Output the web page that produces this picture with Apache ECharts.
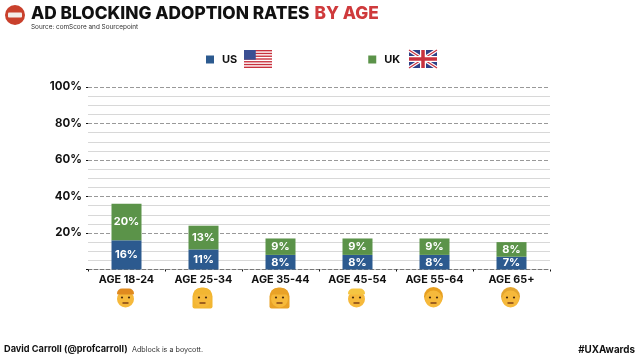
<!DOCTYPE html>
<html>
<head>
<meta charset="utf-8">
<style>
  html, body { margin: 0; padding: 0; background: #fff; }
  #chart { width: 638px; height: 359px; }
</style>
<script src="https://cdn.jsdelivr.net/npm/echarts@6/dist/echarts.min.js"></script>
</head>
<body>
<div id="chart"></div>
<script>
var categories = ["AGE 18-24", "AGE 25-34", "AGE 35-44", "AGE 45-54", "AGE 55-64", "AGE 65+"];
var usValues = [16, 11, 8, 8, 8, 7];
var ukValues = [20, 13, 9, 9, 9, 8];
var faceHair = ["#e08a1e", "#f2b632", "#e9a227", "#f5c542", "#e8a020", "#e3a52f"];
var faceStyle = ["short", "long", "long", "short", "bun", "bald"];

var FONT = "Inter, Lato, sans-serif";
var BLUE = "#2c5a8f";
var GREEN = "#5b9349";

// little emoji look-alike, the font has no colour emoji
function face(cx, cy, hair, style) {
  var kids = [];
  if (style === "long") {
    kids.push({ type: "rect", shape: { x: cx - 10, y: cy - 10, width: 20, height: 21, r: [9, 9, 2, 2] }, style: { fill: hair } });
  }
  if (style === "bun" || style === "bald") {
    kids.push({ type: "circle", shape: { cx: cx, cy: cy - 1, r: 9.5 }, style: { fill: hair } });
  }
  kids.push({ type: "circle", shape: { cx: cx, cy: cy + 1.5, r: 8.5 }, style: { fill: "#f6b93b" } });
  if (style === "short" || style === "long") {
    kids.push({ type: "rect", shape: { x: cx - 8.5, y: cy - 9, width: 17, height: 6, r: [5, 5, 1, 1] }, style: { fill: hair } });
  }
  kids.push({ type: "circle", shape: { cx: cx - 3.5, cy: cy, r: 1.1 }, style: { fill: "#4a2c10" } });
  kids.push({ type: "circle", shape: { cx: cx + 3.5, cy: cy, r: 1.1 }, style: { fill: "#4a2c10" } });
  kids.push({ type: "line", shape: { x1: cx - 3, y1: cy + 5.5, x2: cx + 3, y2: cy + 5.5 }, style: { stroke: "#7a3a14", lineWidth: 1.4 } });
  return { type: "group", children: kids };
}

function usFlag(x, y, w, h) {
  var kids = [{ type: "rect", shape: { x: x, y: y, width: w, height: h }, style: { fill: "#fff" } }];
  for (var i = 0; i < 7; i++) {
    kids.push({ type: "rect", shape: { x: x, y: y + i * h / 6.5, width: w, height: h / 13 }, style: { fill: "#c8313e" } });
  }
  kids.push({ type: "rect", shape: { x: x, y: y, width: w * 0.42, height: h * 0.54 }, style: { fill: "#3b4f93" } });
  return { type: "group", children: kids };
}

function ukFlag(x, y, w, h) {
  function cross(x1, y1, x2, y2, color, lw) {
    return { type: "line", shape: { x1: x1, y1: y1, x2: x2, y2: y2 }, style: { stroke: color, lineWidth: lw } };
  }
  var r = x + w, b = y + h, mx = x + w / 2, my = y + h / 2;
  return { type: "group", children: [
    { type: "rect", shape: { x: x, y: y, width: w, height: h }, style: { fill: "#2f3f86" } },
    cross(x, y, r, b, "#fff", 3.5),
    cross(x, b, r, y, "#fff", 3.5),
    cross(x, y, r, b, "#c8313e", 1.2),
    cross(x, b, r, y, "#c8313e", 1.2),
    cross(mx, y, mx, b, "#fff", 6),
    cross(x, my, r, my, "#fff", 6),
    cross(mx, y, mx, b, "#c8313e", 3.5),
    cross(x, my, r, my, "#c8313e", 3.5)
  ] };
}

var chart = echarts.init(document.getElementById("chart"));

var option = {
  animation: false,
  backgroundColor: "#fff",
  title: {
    left: 31,
    top: 5,
    padding: 0,
    text: "{a|AD BLOCKING ADOPTION RATES} {b|BY AGE}",
    textStyle: {
      rich: {
        a: { fontFamily: FONT, fontSize: 17.3, fontWeight: 800, color: "#111" },
        b: { fontFamily: FONT, fontSize: 17.3, fontWeight: 800, color: "#cf3a3c" }
      }
    },
    subtext: "Source: comScore and Sourcepoint",
    itemGap: 1,
    subtextStyle: { fontFamily: FONT, fontSize: 6.4, color: "#333" }
  },
  legend: {
    left: 206,
    top: 54,
    padding: 0,
    itemGap: 131,
    itemWidth: 8,
    itemHeight: 8,
    icon: "rect",
    textStyle: { fontFamily: FONT, fontSize: 11, fontWeight: 700, color: "#111", padding: [0, 0, 0, 3] },
    data: ["US", "UK"]
  },
  grid: { left: 88, right: 88, top: 87, bottom: 89.5 },
  xAxis: {
    type: "category",
    data: categories,
    axisLine: { lineStyle: { color: "#777", type: "dashed", width: 1 } },
    axisTick: { show: true, length: 2, lineStyle: { color: "#111" } },
    axisLabel: { margin: 5, interval: 0, fontFamily: FONT, fontSize: 10.8, fontWeight: 700, color: "#111" }
  },
  yAxis: {
    type: "value",
    min: 0,
    max: 100,
    interval: 20,
    axisLine: { show: false },
    axisTick: { show: true, length: 2, lineStyle: { color: "#111" } },
    axisLabel: {
      margin: 6,
      fontFamily: FONT,
      fontSize: 11.5,
      fontWeight: 700,
      color: "#111",
      formatter: function (v) { return v === 0 ? "" : v + "%"; }
    },
    splitLine: { show: true, lineStyle: { color: "#999", type: "dashed", width: 1 } },
    minorTick: { show: false, splitNumber: 4 },
    minorSplitLine: { show: true, lineStyle: { color: "#d8d8d8", width: 1 } }
  },
  series: [
    {
      name: "US",
      type: "bar",
      stack: "age",
      barWidth: 30,
      data: usValues,
      itemStyle: { color: BLUE },
      label: { show: true, position: "inside", formatter: "{c}%", color: "#fff", fontFamily: FONT, fontSize: 11, fontWeight: 700 }
    },
    {
      name: "UK",
      type: "bar",
      stack: "age",
      barWidth: 30,
      data: ukValues,
      itemStyle: { color: GREEN },
      label: { show: true, position: "inside", formatter: "{c}%", color: "#fff", fontFamily: FONT, fontSize: 11, fontWeight: 700 }
    }
  ]
};
chart.setOption(option);

var deco = [
  { type: "circle", shape: { cx: 15, cy: 15, r: 10 }, style: { fill: "#c9402c" } },
  { type: "rect", shape: { x: 8, y: 12.5, width: 14, height: 5, r: 1 }, style: { fill: "#f4ece8" } },
  usFlag(244, 50, 28, 18),
  ukFlag(409, 50, 28, 18),
  {
    type: "text", left: 4, top: 345,
    style: { text: "David Carroll (@profcarroll)", fontFamily: FONT, fontSize: 9.2, fontWeight: 700, fill: "#111" }
  },
  {
    type: "text", left: 132, top: 346.5,
    style: { text: "Adblock is a boycott.", fontFamily: FONT, fontSize: 7.2, fill: "#333" }
  },
  {
    type: "text", right: 3, top: 345,
    style: { text: "#UXAwards", fontFamily: FONT, fontSize: 9.8, fontWeight: 700, fill: "#111" }
  }
];
categories.forEach(function (c, i) {
  var x = chart.convertToPixel({ xAxisIndex: 0 }, c);
  deco.push(face(x - 1, 297.5, faceHair[i], faceStyle[i]));
});
chart.setOption({ graphic: { elements: deco } });
</script>
</body>
</html>
